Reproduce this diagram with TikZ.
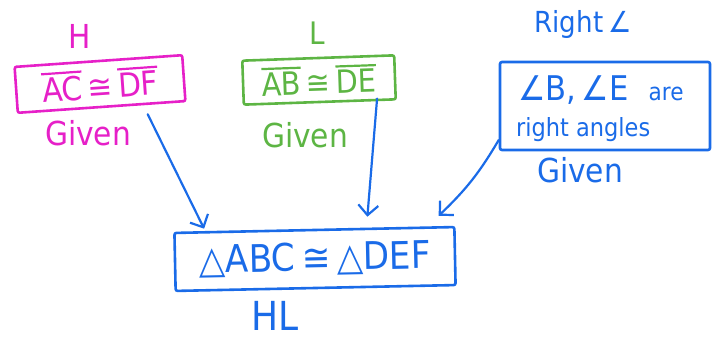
\documentclass[tikz,border=0pt]{standalone}
\usepackage{fontspec}
\setmainfont{DejaVu Sans Condensed}
\usetikzlibrary{arrows.meta,calc}
\definecolor{pinkc}{HTML}{E620C8}
\definecolor{greenc}{HTML}{5DB544}
\definecolor{bluec}{HTML}{1A6BE8}
\newcommand{\ol}[1]{\leavevmode\vbox{\hrule height 2.2pt\kern2.5pt\hbox{#1}}}
\tikzset{
  frame/.style={draw=#1, text=#1, line width=2.6pt, rounded corners=2pt, inner sep=0pt, align=center},
  lbl/.style={text=#1, inner sep=0pt, font=\fontsize{33}{35}\selectfont},
  arr/.style={draw=bluec, line width=2.2pt, line cap=round, -{Straight Barb[length=10pt,width=20pt,line width=2.2pt]}}
}
\begin{document}
\begin{tikzpicture}[x=1pt,y=-1pt]
\useasboundingbox (0,0) rectangle (719,339);
% pink (H)
\node[lbl=pinkc, font=\fontsize{33}{35}\selectfont] (h) at (80,36) {H};
\node[frame=pinkc, minimum width=168pt, minimum height=46pt, rotate=4,
  font=\fontsize{33}{35}\selectfont] (pk) at (100,84) {\ol{AC}\,≅\,\ol{DF}};
\node[lbl=pinkc] (pg) at (88,133) {Given};
% green (L)
\node[lbl=greenc, font=\fontsize{31}{33}\selectfont] (l) at (317,33) {L};
\node[frame=greenc, minimum width=152pt, minimum height=44pt, rotate=2,
  font=\fontsize{32}{34}\selectfont] (gr) at (319,80) {\ol{AB}\,≅\,\ol{DE}};
\node[lbl=greenc] (gg) at (305,135) {Given};
% blue (Right angle)
\node[lbl=bluec, font=\fontsize{29}{31}\selectfont] (r) at (583,25) {Right\,∠};
\node[frame=bluec, minimum width=210pt, minimum height=88pt] (bl) at (605,106) {};
\node[text=bluec, inner sep=0pt, anchor=west] (bt1) at (518,90)
  {\fontsize{34}{36}\selectfont ∠B,\,∠E\hspace{20pt}\fontsize{24}{26}\selectfont are};
\node[text=bluec, inner sep=0pt, anchor=west, font=\fontsize{25}{27}\selectfont] (bt2) at (516,130) {right angles};
\node[lbl=bluec] (bg) at (580,170) {Given};
% conclusion
\node[frame=bluec, minimum width=280pt, minimum height=58pt, rotate=1.2,
  font=\fontsize{38}{40}\selectfont] (cc) at (315,259) {△ABC\,≅\,△DEF};
\node[lbl=bluec, font=\fontsize{40}{42}\selectfont] (hl) at (275,316) {HL};
% arrows
\draw[arr] ($(pk.south)+(46,6)$) -- ($(cc.north west)+(31,-3)$);
\draw[arr] ($(gr.south east)+(-20,-2)$) -- ($(cc.north)+(53,-12)$);
\draw[arr] ($(bl.west)+(0,34)$) to[bend left=8] ($(cc.north east)+(-17,-10)$);
\end{tikzpicture}
\end{document}
